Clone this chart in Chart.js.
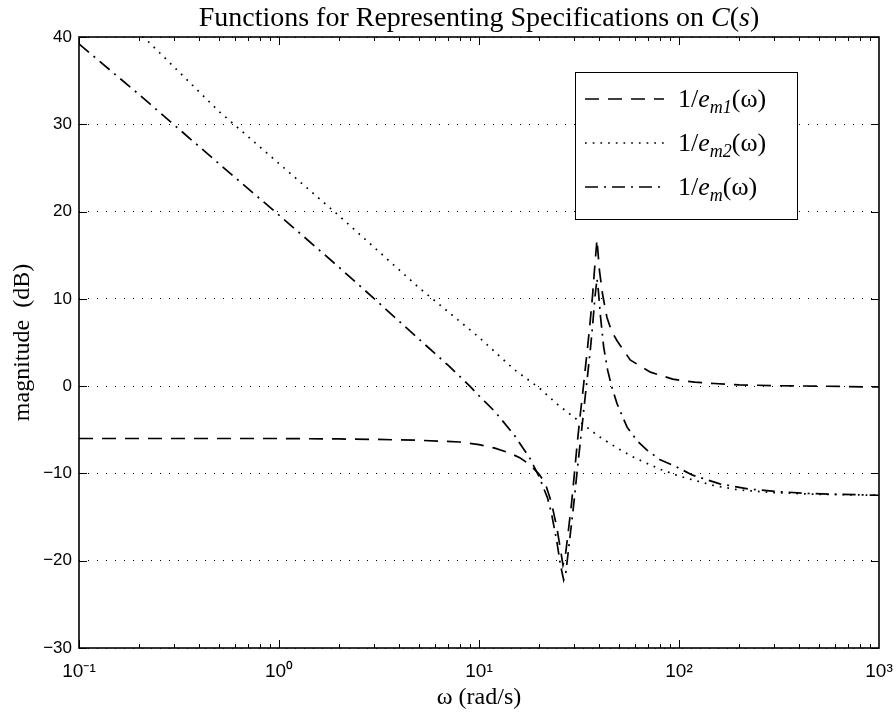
<!DOCTYPE html>
<html><head><meta charset="utf-8">
<script src="https://cdn.jsdelivr.net/npm/chart.js@4.4.1/dist/chart.umd.min.js"></script>
<style>html,body{margin:0;padding:0;background:#fff;}#wrap{width:896px;height:712px;}</style>
</head><body><div id="wrap"><canvas id="c" width="896" height="712"></canvas></div>
<script>
// ---- data ----
const xTicks = [0.1, 1, 10, 100, 1000];
const xTickLabels = ['10\u207B\u00B9', '10\u2070', '10\u00B9', '10\u00B2', '10\u00B3'];
const yTicks = [-30, -20, -10, 0, 10, 20, 30, 40];
const xTitle = '\u03C9 (rad/s)';
const yTitle = 'magnitude  (dB)';
const titleMain = 'Functions for Representing Specifications on ';
const legendSubs = ['m1', 'm2', 'm'];

// 1/e_m1(omega) dashed
const w1 = [0.1,0.2,0.5,1,2,3,5,8,10,12,14,16,18,20,21.5,23,24.5,25.5,26.3,27,28,29,30,31,32,33,34,35,36,37,38,38.9,40,41.5,43.6,46,49,57,65,72,93,120,150,200,300,500,1000];
const m1 = [-6,-6,-6,-6,-6.05,-6.1,-6.2,-6.4,-6.7,-7.1,-7.6,-8.2,-9,-10.1,-11.2,-13.3,-16.2,-18.6,-20.5,-19.5,-16.5,-13.5,-10,-6.5,-3.5,-0.8,2,4.7,7.5,10.5,14,16.8,13.3,10.5,7.9,6.3,5.2,3.0,2.2,1.6,0.8,0.45,0.3,0.15,0.05,0,-0.1];
// 1/e_m2(omega) dotted
const w2 = [0.1,0.2,0.5,1,2,5,10,15,20,25,30,35,40,50,60,80,100,120,150,200,300,500,1000];
const m2 = [46.5,40.5,31.5,25.5,19.5,11.3,5.6,1.9,-0.2,-2.2,-3.6,-4.8,-5.8,-7.2,-8.2,-9.5,-10.3,-10.8,-11.4,-11.9,-12.2,-12.4,-12.5];
// 1/e_m(omega) dash-dot
const wm = [0.1,0.2,0.3,0.5,1,2,3,5,7,9,10,12,15,18,20,22,23,24.5,25.5,26.5,27.2,28,29,30,31,32,33,34,35,36,37,38,38.9,39.5,40.5,42,44,46,49,55,62,69,80,98,117,160,226,320,450,640,1000];
const mm = [39.2,33.4,29.9,25.5,19.6,13.6,10,5.4,2.4,0,-1.1,-2.9,-5.6,-8.3,-10.4,-12.8,-14.5,-17.8,-20.4,-22.2,-21.3,-18.8,-15.8,-12.8,-9.6,-6.7,-3.9,-1.1,1.5,4.1,7,10.2,12.3,11,8,4.5,1.8,0,-2,-4.7,-6.3,-7.3,-8.4,-9.3,-10.2,-11.2,-11.8,-12.1,-12.3,-12.4,-12.5];

const pts = (ws, vs) => ws.map((w, i) => ({x: w, y: vs[i]}));
const SERIF = '"Liberation Serif", "Times New Roman", serif';
const SANS = '"Liberation Sans", Arial, sans-serif';

const decor = {
  id: 'decor',
  afterDraw(chart) {
    const ctx = chart.ctx, ca = chart.chartArea;
    const xs = chart.scales.x, ys = chart.scales.y;
    ctx.save();
    ctx.strokeStyle = '#000';
    ctx.lineWidth = 1;
    // inward ticks
    ctx.beginPath();
    for (let d = 0.1; d < 1000; d *= 10) {
      for (let k = 1; k <= 9; k++) {
        const px = Math.round(xs.getPixelForValue(d * k)) + 0.5;
        const len = k === 1 ? 8 : 4;
        ctx.moveTo(px, ca.bottom); ctx.lineTo(px, ca.bottom - len);
        ctx.moveTo(px, ca.top); ctx.lineTo(px, ca.top + len);
      }
    }
    yTicks.forEach(v => {
      const py = Math.round(ys.getPixelForValue(v)) + 0.5;
      ctx.moveTo(ca.left, py); ctx.lineTo(ca.left + 8, py);
      ctx.moveTo(ca.right, py); ctx.lineTo(ca.right - 8, py);
    });
    ctx.stroke();
    // frame
    ctx.lineWidth = 1.6;
    ctx.strokeRect(ca.left, ca.top, ca.right - ca.left, ca.bottom - ca.top);

    // title
    const cx = (ca.left + ca.right) / 2;
    const fsT = 28;
    const fR = fsT + 'px ' + SERIF, fI = 'italic ' + fsT + 'px ' + SERIF;
    const parts = [[titleMain, fR], ['C', fI], ['(', fR], ['s', fI], [')', fR]];
    let tw = 0;
    parts.forEach(p => { ctx.font = p[1]; tw += ctx.measureText(p[0]).width; });
    let tx = cx - tw / 2;
    ctx.fillStyle = '#000';
    ctx.textBaseline = 'alphabetic';
    ctx.textAlign = 'left';
    parts.forEach(p => { ctx.font = p[1]; ctx.fillText(p[0], tx, 26); tx += ctx.measureText(p[0]).width; });

    // legend
    const bx = ca.left + 496, by = ca.top + 35, bw = 222, bh = 147;
    ctx.fillStyle = '#fff';
    ctx.fillRect(bx, by, bw, bh);
    ctx.lineWidth = 1;
    ctx.strokeRect(bx + 0.5, by + 0.5, bw, bh);
    chart.data.datasets.forEach((ds, i) => {
      const ry = by + 27 + i * 44;
      ctx.save();
      ctx.lineWidth = ds.borderWidth;
      ctx.setLineDash(ds.borderDash);
      ctx.beginPath();
      ctx.moveTo(bx + 10, ry); ctx.lineTo(bx + 89, ry);
      ctx.stroke();
      ctx.restore();
      ctx.fillStyle = '#000';
      let x = bx + 103;
      const fs = 26, fss = 18;
      const seg = [['1/', fs + 'px ' + SERIF, 0], ['e', 'italic ' + fs + 'px ' + SERIF, 0],
                   [legendSubs[i], 'italic ' + fss + 'px ' + SERIF, 6], ['(\u03C9)', fs + 'px ' + SERIF, 0]];
      seg.forEach(s => { ctx.font = s[1]; ctx.fillText(s[0], x, ry + 8 + s[2]); x += ctx.measureText(s[0]).width; });
    });
    ctx.restore();
  }
};

new Chart(document.getElementById('c').getContext('2d'), {
  type: 'line',
  data: {
    datasets: [
      {label: '1/e_m1(\u03C9)', data: pts(w1, m1), borderColor: '#000', borderWidth: 1.7, borderDash: [14, 9], pointRadius: 0, tension: 0, fill: false},
      {label: '1/e_m2(\u03C9)', data: pts(w2, m2), borderColor: '#000', borderWidth: 1.7, borderDash: [1.7, 6], pointRadius: 0, tension: 0, fill: false},
      {label: '1/e_m(\u03C9)', data: pts(wm, mm), borderColor: '#000', borderWidth: 1.7, borderDash: [13, 6, 2, 6], pointRadius: 0, tension: 0, fill: false}
    ]
  },
  options: {
    responsive: false, animation: false, devicePixelRatio: 1,
    layout: {padding: {top: 37, right: 17, left: 0, bottom: 0}},
    plugins: {legend: {display: false}, title: {display: false}, tooltip: {enabled: false}},
    scales: {
      x: {
        type: 'logarithmic', min: 0.1, max: 1000, position: 'bottom',
        afterBuildTicks: s => { s.ticks = xTicks.map(v => ({value: v})); },
        afterFit: s => { s.height = 64; s.paddingLeft = 0; s.paddingRight = 0; },
        ticks: {callback: (v, i) => xTickLabels[i], autoSkip: false, maxRotation: 0, padding: 12, color: '#000',
                font: {family: SANS, size: 19}},
        grid: {display: false, drawTicks: false},
        border: {display: false},
        title: {display: true, text: xTitle, color: '#000', font: {family: SERIF, size: 24}, padding: {top: 0, bottom: 0}}
      },
      y: {
        min: -30, max: 40,
        afterBuildTicks: s => { s.ticks = yTicks.map(v => ({value: v})); },
        afterFit: s => { s.width = 79; s.paddingTop = 0; s.paddingBottom = 0; },
        ticks: {callback: v => v < 0 ? '\u2212' + Math.abs(v) : String(v), padding: 7, color: '#000',
                font: {family: SANS, size: 17}},
        grid: {color: '#000', lineWidth: 1, drawTicks: false, tickLength: 0},
        border: {display: false, dash: [1, 8]},
        title: {display: true, text: yTitle, color: '#000', font: {family: SERIF, size: 24}, padding: {top: 8, bottom: 0}}
      }
    }
  },
  plugins: [decor]
});
</script>
</body></html>
